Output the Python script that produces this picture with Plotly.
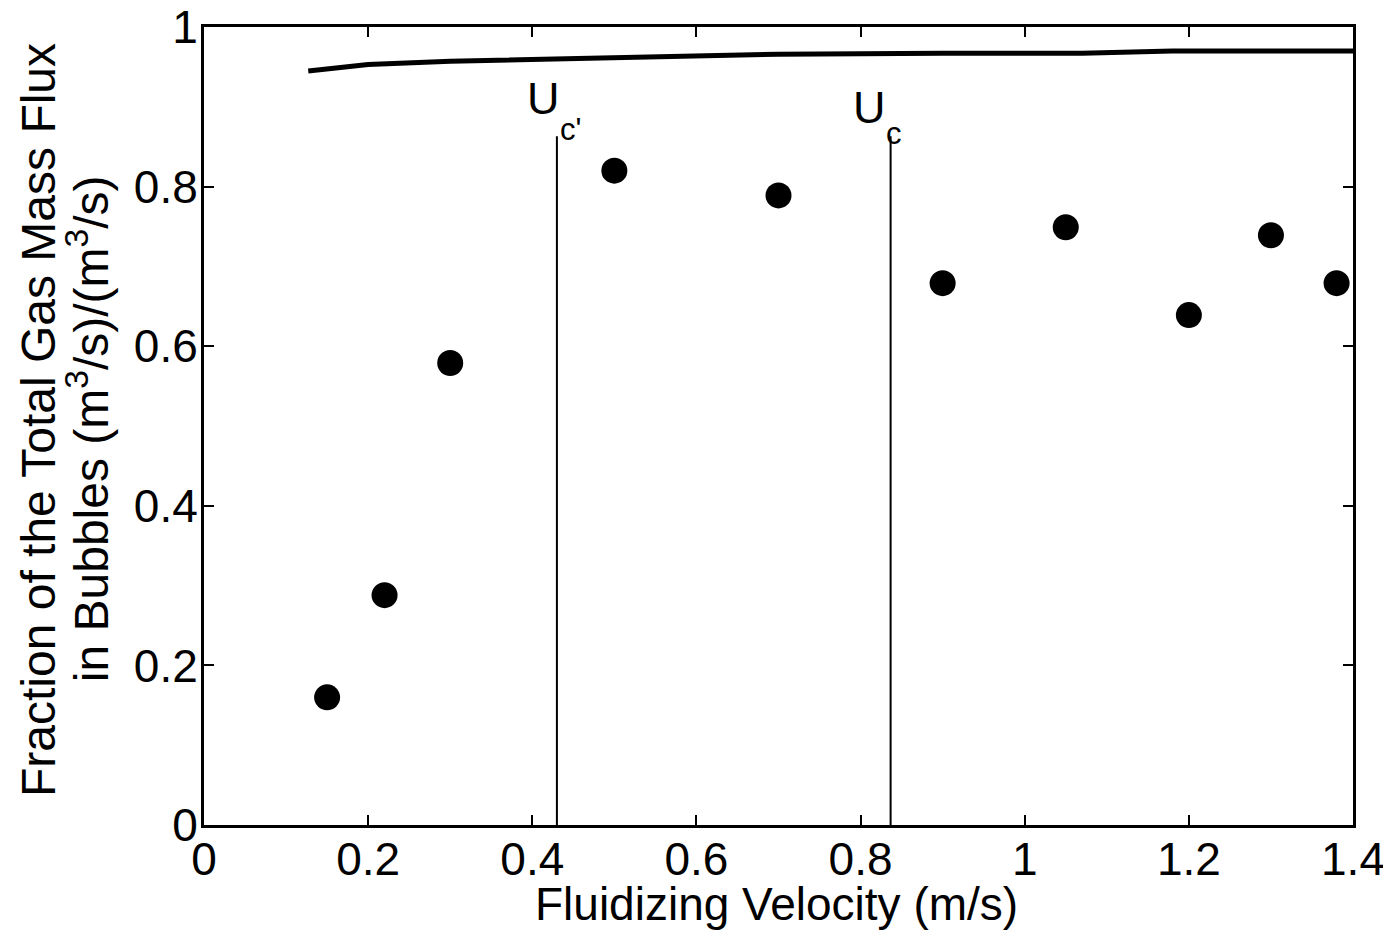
import plotly.graph_objects as go

# Measured data points
vel = [0.15, 0.22, 0.30, 0.50, 0.70, 0.90, 1.05, 1.20, 1.30, 1.38]
frac = [0.16, 0.288, 0.579, 0.820, 0.789, 0.679, 0.749, 0.639, 0.739, 0.679]

# Upper curve
curve_x = [0.127, 0.20, 0.30, 0.50, 0.70, 0.90, 1.07, 1.18, 1.40]
curve_y = [0.945, 0.953, 0.957, 0.962, 0.966, 0.967, 0.967, 0.970, 0.970]

# Vertical markers
vline_x = [0.430, 0.8366]
vline_top = [0.863, 0.863]

xticks = [0, 0.2, 0.4, 0.6, 0.8, 1, 1.2, 1.4]
xtick_text = ["0", "0.2", "0.4", "0.6", "0.8", "1", "1.2", "1.4"]
yticks = [0, 0.2, 0.4, 0.6, 0.8, 1]
ytick_text = ["0", "0.2", "0.4", "0.6", "0.8", "1"]

FONT = "Liberation Sans, Arial, sans-serif"
BLACK = "black"

fig = go.Figure()
fig.add_trace(go.Scatter(x=curve_x, y=curve_y, mode="lines",
                         line=dict(color=BLACK, width=5), showlegend=False))
for vx, vt in zip(vline_x, vline_top):
    fig.add_trace(go.Scatter(x=[vx, vx], y=[0, vt], mode="lines",
                             line=dict(color=BLACK, width=2), showlegend=False))
fig.add_trace(go.Scatter(x=vel, y=frac, mode="markers",
                         marker=dict(color=BLACK, size=26, symbol="circle"),
                         showlegend=False))

def ann(x, y, text, size, xanchor="left", yanchor="middle", **kw):
    fig.add_annotation(x=x, y=y, text=text, showarrow=False,
                       xanchor=xanchor, yanchor=yanchor,
                       font=dict(family=FONT, size=size, color=BLACK), **kw)

# "U" labels with separate subscripts
ann(0.391, 0.911, "U", 45)
ann(0.431, 0.872, "c'", 31)
ann(0.788, 0.899, "U", 45)
ann(0.829, 0.867, "c", 31)

# axis titles
ann(0.4982, -0.0985, "Fluidizing Velocity (m/s)", 46, xanchor="center",
    xref="paper", yref="paper")
fig.add_annotation(x=0, y=0.5075, xref="paper", yref="paper",
                   text="Fraction of the Total Gas Mass Flux",
                   textangle=-90, showarrow=False, xanchor="center", yanchor="middle",
                   xshift=-166, font=dict(family=FONT, size=48, color=BLACK))
fig.add_annotation(x=0, y=0.496, xref="paper", yref="paper",
                   text="in Bubbles (m<sup>3</sup>/s)/(m<sup>3</sup>/s)",
                   textangle=-90, showarrow=False, xanchor="center", yanchor="middle",
                   xshift=-116, font=dict(family=FONT, size=48, color=BLACK))

axis_common = dict(showgrid=False, zeroline=False, showline=True, linecolor=BLACK,
                   linewidth=3, mirror="ticks", ticks="inside", ticklen=10,
                   tickwidth=2, tickcolor=BLACK, automargin=False,
                   ticklabeloverflow="allow",
                   tickfont=dict(family=FONT, size=46, color=BLACK))

fig.update_xaxes(range=[0, 1.4], tickvals=xticks, ticktext=xtick_text,
                 ticklabelstandoff=-8, **axis_common)
fig.update_yaxes(range=[0, 1], tickvals=yticks, ticktext=ytick_text,
                 ticklabelstandoff=-6, **axis_common)

# page body adds an 8px offset, so the figure is sized to fit inside the window
fig.update_layout(width=1383, height=924, plot_bgcolor="white", paper_bgcolor="white",
                  margin=dict(l=196, r=38, t=19, b=107), showlegend=False)

fig.write_html("out.html")
